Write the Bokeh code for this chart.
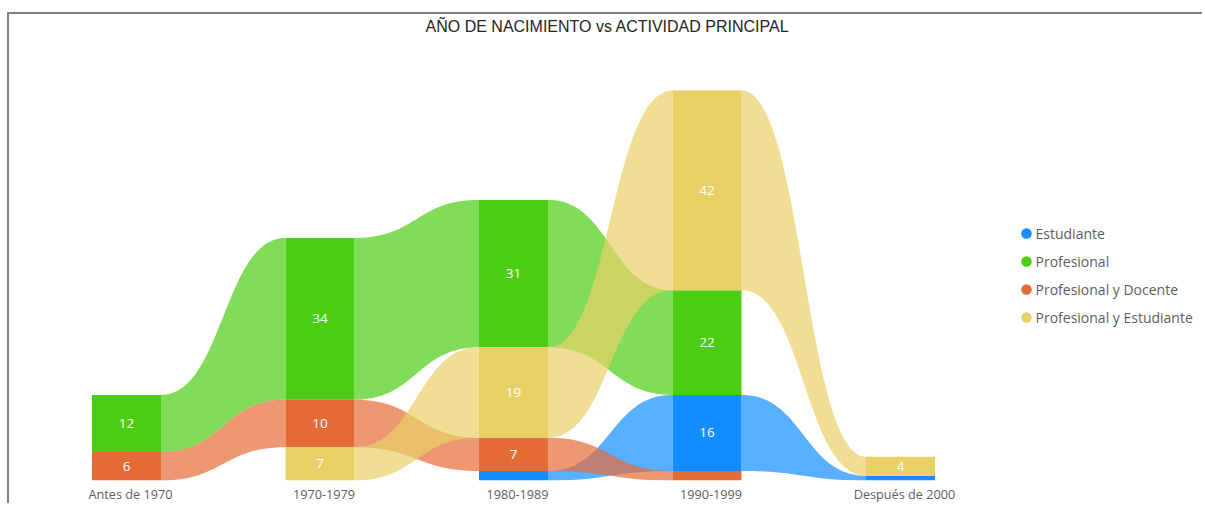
import numpy as np
from bokeh.plotting import figure
from bokeh.models import FixedTicker
from bokeh.core.properties import value
from bokeh.embed import file_html
from bokeh.resources import INLINE

# ---------------- data ----------------
categories = ["Antes de 1970", "1970-1979", "1980-1989", "1990-1999", "Después de 2000"]
series = ["Estudiante", "Profesional", "Profesional y Docente", "Profesional y Estudiante"]
estudiante = [0, 0, 2, 16, 1]
profesional = [12, 34, 31, 22, 0]
prof_docente = [6, 10, 7, 2, 0]
prof_estudiante = [0, 7, 19, 42, 4]
title_text = "AÑO DE NACIMIENTO vs ACTIVIDAD PRINCIPAL"

colors = ["#118DFF", "#4BCD14", "#E66C37", "#E8D066"]
values = [estudiante, profesional, prof_docente, prof_estudiante]
n = len(categories)
ns = len(series)

# ---------------- layout ----------------
W, H = 1195, 491
cat_px = 193.5          # pixels between category centres
first_cx = 117          # canvas x of first category centre
frame_bottom = 466      # canvas y of baseline
tallest_px = 390        # pixel height of tallest column
bar_px = 69

totals = [sum(v[j] for v in values) for j in range(n)]
ppu = tallest_px / max(totals)  # pixels per unit


def dx(cx):
    return (cx - first_cx) / cat_px


def dy(cy):
    return (frame_bottom - cy) / ppu


x_start, x_end = dx(0), dx(W)
y_start, y_end = 0, dy(0)
bw = bar_px / cat_px

# stacking: smallest value at the bottom of each column
bottoms = np.zeros((ns, n))
tops = np.zeros((ns, n))
for j in range(n):
    order = sorted(range(ns), key=lambda s: values[s][j])
    acc = 0.0
    for s in order:
        bottoms[s, j] = acc
        acc += values[s][j]
        tops[s, j] = acc

p = figure(width=W, height=H, x_range=(x_start, x_end), y_range=(y_start, y_end),
           output_backend="svg", toolbar_location=None, y_axis_location=None,
           min_border_left=0, min_border_right=0, min_border_top=0,
           min_border_bottom=H - frame_bottom)
p.styles = {"border-top": "2px solid #7E7E7E", "border-left": "2px solid #7E7E7E",
            "margin-top": "12px", "margin-left": "7px"}
p.outline_line_color = None
p.xgrid.visible = False
p.ygrid.visible = False
p.background_fill_color = "white"
p.border_fill_color = "white"

# ribbons
tt = np.linspace(0, 1, 60)


def bez(a, b, c, d):
    return (1 - tt) ** 3 * a + 3 * (1 - tt) ** 2 * tt * b + 3 * (1 - tt) * tt ** 2 * c + tt ** 3 * d


rx, ry, rc = [], [], []
for s in range(ns):
    for j in range(n - 1):
        if values[s][j] > 0 and values[s][j + 1] > 0:
            xl = j + bw / 2
            xr = j + 1 - bw / 2
            xm = (xl + xr) / 2
            xt = bez(xl, xm, xm, xr)
            ytop = bez(tops[s, j], tops[s, j], tops[s, j + 1], tops[s, j + 1])
            ybot = bez(bottoms[s, j], bottoms[s, j], bottoms[s, j + 1], bottoms[s, j + 1])
            rx.append(list(xt) + list(xt[::-1]))
            ry.append(list(ytop) + list(ybot[::-1]))
            rc.append(colors[s])
p.patches(rx, ry, fill_color=rc, fill_alpha=0.7, line_color=None)

# bars
bl, br, bb, bt, bc = [], [], [], [], []
lx, ly, lt = [], [], []
for s in range(ns):
    for j in range(n):
        v = values[s][j]
        if v > 0:
            bl.append(j - bw / 2)
            br.append(j + bw / 2)
            bb.append(bottoms[s, j])
            bt.append(tops[s, j])
            bc.append(colors[s])
            if v * ppu >= 15:
                lx.append(j)
                ly.append((bottoms[s, j] + tops[s, j]) / 2)
                lt.append(str(v))
p.quad(left=bl, right=br, bottom=bb, top=bt, fill_color=bc, line_color=None)
p.text(x=lx, y=ly, text=lt, text_color="white", text_font=value("Open Sans"),
       text_font_size="13.5px", text_align="center", text_baseline="middle")

# title
p.text(x=[dx(598)], y=[dy(12)], text=[title_text], text_color="#252423",
       text_font=value("Liberation Sans"), text_font_size="16px", text_align="center",
       text_baseline="middle")

# legend
leg_y = [dy(219 + 28 * i) for i in range(ns)]
p.scatter(x=[dx(1017)] * ns, y=leg_y, marker="circle", size=10.5, fill_color=colors, line_color=None)
p.text(x=[dx(1026)] * ns, y=leg_y, text=series, text_color="#605E5C",
       text_font=value("Open Sans"), text_font_size="14px", text_align="left",
       text_baseline="middle")

# axis
shift = 4 / cat_px
ticks = [j + shift for j in range(n)]
p.xaxis.ticker = FixedTicker(ticks=ticks)
p.xaxis.major_label_overrides = {t: c for t, c in zip(ticks, categories)}
p.xaxis.axis_line_color = None
p.xaxis.major_tick_line_color = None
p.xaxis.major_tick_out = 0
p.xaxis.major_tick_in = 0
p.xaxis.minor_tick_line_color = None
p.xaxis.minor_tick_out = 0
p.xaxis.major_label_standoff = 4
p.xaxis.major_label_text_font = "Open Sans"
p.xaxis.major_label_text_font_size = "12.7px"
p.xaxis.major_label_text_color = "#605E5C"

open("out.html", "w").write(file_html(p, INLINE))
